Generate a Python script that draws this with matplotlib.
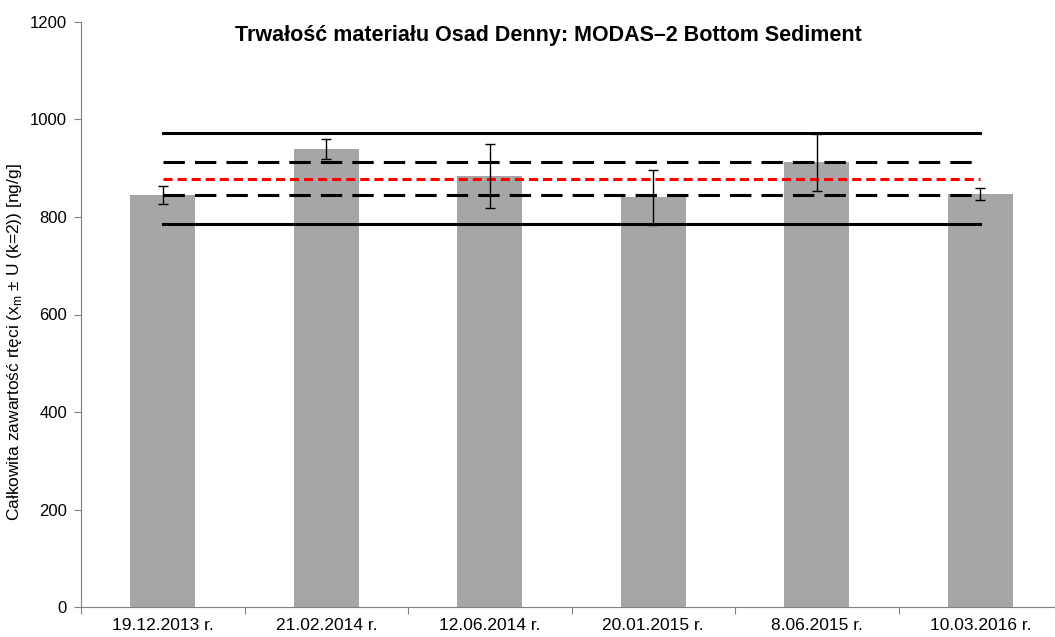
import numpy as np
import matplotlib.pyplot as plt

plt.rcParams['font.family'] = ['Liberation Sans', 'DejaVu Sans']

# data
dates = ["19.12.2013 r.", "21.02.2014 r.", "12.06.2014 r.",
         "20.01.2015 r.", "8.06.2015 r.", "10.03.2016 r."]
values = [845, 940, 884, 840, 912, 847]
errors = [19, 21, 65, 56, 59, 12]

# reference lines
upper_solid = 972
upper_dash = 912
mean_line = 877
lower_dash = 845
lower_solid = 786

fig = plt.figure(figsize=(10.55, 6.37), dpi=100)
ax = fig.add_axes([81/1055, 30/637, 981/1055, 585/637])

x = np.arange(len(dates))
ax.bar(x, values, width=0.4, color="#a6a6a6", zorder=1)

n = len(dates)
ax.plot(x, [upper_solid]*n, color="black", lw=2.2, zorder=2)
ax.plot(x, [lower_solid]*n, color="black", lw=2.2, zorder=2)
ax.plot(x, [upper_dash]*n, color="black", lw=2.2, dashes=(7, 3.3), zorder=2)
ax.plot(x, [lower_dash]*n, color="black", lw=2.2, dashes=(7, 3.3), zorder=2)
ax.plot(x, [mean_line]*n, color="red", lw=2.2, dashes=(3, 1.6), zorder=2)

ax.errorbar(x, values, yerr=errors, fmt="none", ecolor="black",
            elinewidth=1, capsize=3.5, capthick=1, zorder=3)

ax.set_xlim(-0.5, n - 0.5)
ax.set_ylim(0, 1200)
ax.set_yticks(range(0, 1201, 200))
ax.set_xticks(np.arange(-0.5, n, 1), minor=False)
ax.set_xticklabels([""] * (n + 1))
ax.set_xticks(x, minor=True)
ax.set_xticklabels(dates, minor=True)
ax.tick_params(axis="x", which="minor", length=0, labelsize=12.5, pad=8)
ax.tick_params(axis="x", which="major", length=5, color="#808080")
ax.tick_params(axis="y", length=5, color="#808080", labelsize=12, pad=5)

for s in ["top", "right"]:
    ax.spines[s].set_visible(False)
for s in ["left", "bottom"]:
    ax.spines[s].set_color("#808080")

fig.text(15/1055, 1 - 342/637,
         "Całkowita zawartość rtęci (x$_\\mathregular{m}$ ± U (k=2)) [ng/g]",
         rotation=90, ha="center", va="center", fontsize=12.5)

fig.text(548/1055, 1 - 35/637, "Trwałość materiału Osad Denny: MODAS–2 Bottom Sediment",
         ha="center", va="center", fontsize=15.5, fontweight="bold")

fig.savefig("out.png", dpi=100)
